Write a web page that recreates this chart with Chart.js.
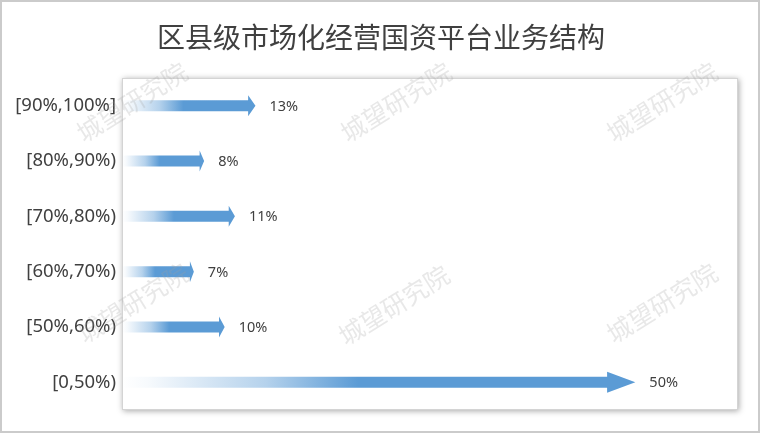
<!DOCTYPE html>
<html>
<head>
<meta charset="utf-8">
<script src="https://cdn.jsdelivr.net/npm/chart.js@4/dist/chart.umd.min.js"></script>
<style>
    html, body { margin: 0; padding: 0; background: #ffffff; }
    #wrap { width: 762px; height: 447px; }
</style>
</head>
<body>
<div id="wrap"><canvas id="chartEstructura" width="762" height="447"></canvas></div>
<script>
const categorias = ['[90%,100%]', '[80%,90%)', '[70%,80%)', '[60%,70%)', '[50%,60%)', '[0,50%)'];
const porcentajes = [13, 8, 11, 7, 10, 50];
const titulo = '区县级市场化经营国资平台业务结构';
const marcaAgua = '城望研究院';

const azul = [91, 155, 213];

// Fondo del área del gráfico con sombra y marco exterior
const fondoPlugin = {
    id: 'fondo',
    beforeDraw(chart) {
        const ctx = chart.ctx;
        const a = chart.chartArea;
        ctx.save();
        ctx.strokeStyle = '#cbcbcb';
        ctx.lineWidth = 2;
        ctx.strokeRect(1, 1, 758, 431);

        ctx.shadowColor = 'rgba(0,0,0,0.35)';
        ctx.shadowBlur = 6;
        ctx.shadowOffsetX = 1;
        ctx.shadowOffsetY = 1;
        ctx.fillStyle = '#ffffff';
        ctx.fillRect(a.left, a.top, a.right - a.left, a.bottom - a.top);
        ctx.shadowColor = 'transparent';
        ctx.strokeStyle = '#d4d4d4';
        ctx.lineWidth = 1;
        ctx.strokeRect(a.left + 0.5, a.top + 0.5, a.right - a.left - 1, a.bottom - a.top - 1);
        ctx.restore();
    }
};

// Flechas con degradado a partir de las barras
const flechasPlugin = {
    id: 'flechas',
    afterDatasetsDraw(chart) {
        const ctx = chart.ctx;
        const meta = chart.getDatasetMeta(0);
        ctx.save();
        meta.data.forEach((bar, i) => {
            const base = bar.base;
            const tip = bar.x;
            const y = bar.y;
            const largo = tip - base;
            const cabeza = largo * 0.055;
            const medioTallo = 5.5;
            const medioCabeza = 10.5;

            const grad = ctx.createLinearGradient(base, 0, tip, 0);
            grad.addColorStop(0, 'rgba(' + azul.join(',') + ',0)');
            grad.addColorStop(0.05, 'rgba(' + azul.join(',') + ',0.05)');
            grad.addColorStop(0.28, 'rgba(' + azul.join(',') + ',0.45)');
            grad.addColorStop(0.46, 'rgba(' + azul.join(',') + ',1)');
            grad.addColorStop(1, 'rgba(' + azul.join(',') + ',1)');

            ctx.beginPath();
            ctx.moveTo(base, y - medioTallo);
            ctx.lineTo(tip - cabeza, y - medioTallo);
            ctx.lineTo(tip - cabeza, y - medioCabeza);
            ctx.lineTo(tip, y);
            ctx.lineTo(tip - cabeza, y + medioCabeza);
            ctx.lineTo(tip - cabeza, y + medioTallo);
            ctx.lineTo(base, y + medioTallo);
            ctx.closePath();
            ctx.fillStyle = grad;
            ctx.fill();

            ctx.fillStyle = '#404040';
            ctx.font = '14.5px "Noto Sans", "Open Sans", sans-serif';
            ctx.textAlign = 'left';
            ctx.textBaseline = 'middle';
            ctx.fillText(porcentajes[i] + '%', tip + 14, y + 1);
        });
        ctx.restore();
    },
    afterDraw(chart) {
        const ctx = chart.ctx;
        const posiciones = [[132, 102], [396, 102], [662, 102], [133, 303], [394, 305], [662, 303]];
        ctx.save();
        ctx.fillStyle = 'rgba(160,160,160,0.24)';
        ctx.font = '25px "Noto Sans CJK SC", sans-serif';
        ctx.textAlign = 'center';
        ctx.textBaseline = 'middle';
        posiciones.forEach(p => {
            ctx.save();
            ctx.translate(p[0], p[1]);
            ctx.rotate(-32 * Math.PI / 180);
            ctx.fillText(marcaAgua, 0, 0);
            ctx.restore();
        });
        ctx.restore();
    }
};

const ctx1 = document.getElementById('chartEstructura');
const chartEstructura = new Chart(ctx1, {
    type: 'bar',
    data: {
        labels: categorias,
        datasets: [{
            label: '业务结构',
            data: porcentajes,
            backgroundColor: 'rgba(0,0,0,0)',
            borderWidth: 0,
            categoryPercentage: 1,
            barPercentage: 0.4
        }]
    },
    options: {
        indexAxis: 'y',
        responsive: false,
        animation: false,
        layout: {
            padding: { left: 0, right: 0, top: 0, bottom: 37 }
        },
        plugins: {
            legend: { display: false },
            tooltip: { enabled: false },
            title: {
                display: true,
                text: titulo,
                color: '#404040',
                font: { size: 28, family: '"Noto Sans CJK SC", sans-serif', weight: 'normal' },
                padding: { top: 21, bottom: 23.4 }
            }
        },
        scales: {
            x: {
                display: false,
                min: 0,
                max: 60
            },
            y: {
                grid: { display: false, drawTicks: false },
                border: { display: false },
                ticks: {
                    color: '#404040',
                    padding: 6,
                    font: { size: 18.5, family: '"Noto Sans", "Open Sans", sans-serif' }
                },
                afterFit(scale) {
                    scale.width = 122;
                }
            },
            // eje vacío a la derecha, solo reserva el margen
            yDer: {
                type: 'category',
                position: 'right',
                grid: { display: false, drawTicks: false },
                border: { display: false },
                ticks: { display: false },
                afterFit(scale) {
                    scale.width = 24;
                }
            }
        }
    },
    plugins: [fondoPlugin, flechasPlugin]
});
</script>
</body>
</html>
